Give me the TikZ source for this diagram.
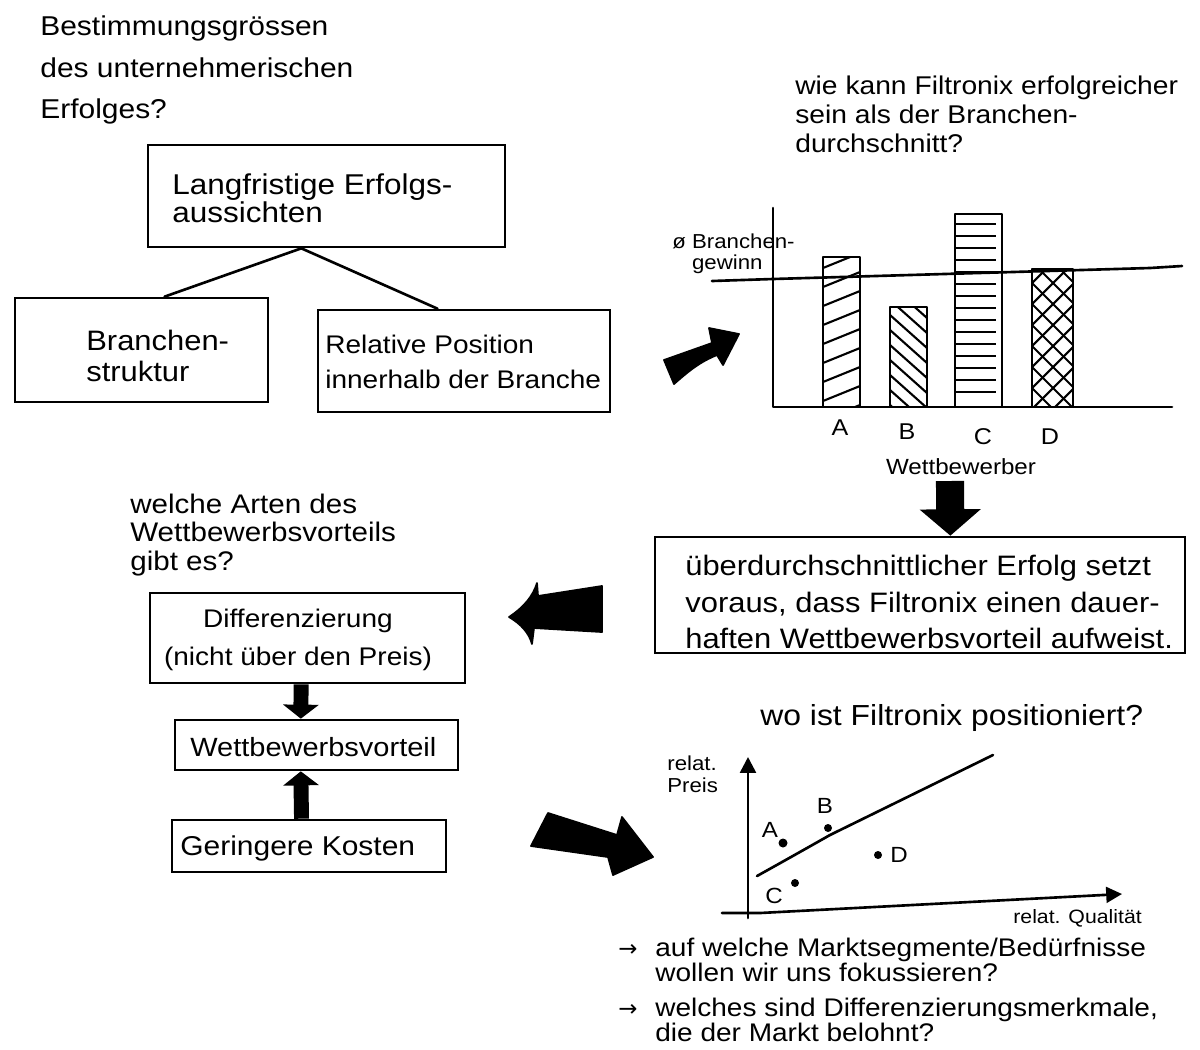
\documentclass[tikz,border=0pt]{standalone}
\usepackage{fontspec}
\setmainfont[FakeStretch=1.1]{Liberation Sans}
\newfontfamily\djv{DejaVu Sans}
\usetikzlibrary{arrows.meta,fit,calc}
\newcommand\fsz[2]{\fontsize{#1}{#2}\selectfont}
\begin{document}
\begin{tikzpicture}[x=0.02cm,y=-0.02cm,
  box/.style={draw, line width=1.5pt, inner sep=0pt},
  txt/.style={inner sep=0pt, anchor=west, align=left},
  lbl/.style={inner sep=0pt},
  ln/.style={line width=1.5pt, line cap=round, line join=round},
  fat/.style={fill=black, draw=black, line width=1pt, line join=round},
  hatch/.style={line width=1.2pt},
  thick arrow/.style={line width=8.5pt, -{Triangle[width=20pt,length=8pt]}},
]
\useasboundingbox[fill=white] (0,0) rectangle (1200,1049);

% ---------- top left ----------
\node[txt, font=\fsz{15.5}{23.5}] (q1) at (40,70) {Bestimmungsgrössen\\des unternehmerischen\\Erfolges?};

\node[box, fit={(148,145) (505,247)}] (b1) {};
\node[txt, font=\fsz{16.3}{15}] (b1t) at (172,198) {Langfristige Erfolgs-\\aussichten};
\node[box, fit={(15,298) (268,402)}] (b2) {};
\node[txt, font=\fsz{16}{18}] (b2t) at (86,356) {Branchen-\\struktur};
\node[box, fit={(318,310) (610,412)}] (b3) {};
\node[txt, font=\fsz{14.5}{20}] (b3t) at (325,362) {Relative Position\\innerhalb der Branche};
\coordinate (t0) at ($(b1.south west)!0.43!(b1.south east)$);
\coordinate (t1) at ($(b2.north west)!0.59!(b2.north east)$);
\coordinate (t2) at ($(b3.north west)!0.41!(b3.north east)$);
\draw[ln] (t1) -- (t0) -- (t2);

% fat arrow 1
\fill[fat] (664,360) -- (712,343) -- (709,328) -- (739,334) -- (723,365) -- (717,355)
  .. controls (700,362) and (690,370) .. (674,384) -- cycle;

% ---------- bar chart ----------
\node[txt, font=\fsz{14.6}{16.5}] (q2) at (795,114) {wie kann Filtronix erfolgreicher\\sein als der Branchen-\\durchschnitt?};
\draw[ln] (773,208) -- (773,407) -- (1172,407);
\draw[ln] (712,281) -- (773,279) -- (1150,268) -- (1182,266);
\node[txt, font=\fsz{11.5}{12}] (avg) at (672,254) {ø Branchen-\\\phantom{ø }gewinn};

\draw[ln] (823,257) rectangle (860,407);
\begin{scope}\clip (823,257) rectangle (860,407);
\foreach \y in {268,287,...,440} \draw[hatch] (823,\y) -- (860,\y-15);
\end{scope}
\draw[ln] (890,307) rectangle (927,407);
\begin{scope}\clip (890,307) rectangle (927,407);
\foreach \y in {285,300,...,420} \draw[hatch] (890,\y) -- (927,\y+33);
\end{scope}
\draw[ln] (955,214) rectangle (1002,407);
\begin{scope}\clip (955,214) rectangle (1002,407);
\foreach \y in {224,236,...,400} \draw[hatch] (955,\y) -- (996,\y);
\end{scope}
\draw[ln] (1032,269) rectangle (1073,407);
\begin{scope}\clip (1032,269) rectangle (1073,407);
\foreach \y in {220,241,...,460} {\draw[hatch] (1032,\y) -- (1073,\y+41); \draw[hatch] (1032,\y) -- (1073,\y-41);}
\end{scope}
\node[lbl, font=\fsz{13}{14}] (la) at (840,428) {A};
\node[lbl, font=\fsz{13}{14}] (lb) at (907,432) {B};
\node[lbl, font=\fsz{13}{14}] (lc) at (983,437) {C};
\node[lbl, font=\fsz{13}{14}] (ld) at (1050,437) {D};
\node[lbl, font=\fsz{12.5}{14}] (wb) at (961,467) {Wettbewerber};

% ---------- big box ----------
\node[box, fit={(655,537) (1185,653)}] (bb) {};
\node[txt, font=\fsz{16}{21}] (bbt) at (685,602) {überdurchschnittlicher Erfolg setzt\\voraus, dass Filtronix einen dauer-\\haften Wettbewerbsvorteil aufweist.};
\coordinate (da) at (950,481);
\draw[line width=16pt, -{Triangle[width=34pt,length=15pt]}] (da) -- ($(bb.north west)!0.557!(bb.north east)$);

% fat arrow left
\fill[fat] (509,617) .. controls (524,607) and (533,596) .. (537,583) -- (538,596) -- (602,586)
  -- (602,632) -- (534,628) -- (532,644) .. controls (529,633) and (521,624) .. (509,617) -- cycle;

% ---------- left column ----------
\node[txt, font=\fsz{15.3}{16}] (q3) at (130,535) {welche Arten des\\Wettbewerbsvorteils\\gibt es?};
\node[box, fit={(150,593) (465,683)}] (db) {};
\node[lbl, align=center, font=\fsz{14.5}{22}] (dbt) at (298,640) {Differenzierung\\(nicht über den Preis)};
\node[box, fit={(175,720) (458,770)}] (wv) {};
\node[txt, font=\fsz{15}{16}] (wvt) at (190,747) {Wettbewerbsvorteil};
\node[box, fit={(172,820) (446,872)}] (gk) {};
\node[txt, font=\fsz{15.5}{16}] (gkt) at (180,848) {Geringere Kosten};
\draw[thick arrow] ($(db.south west)!0.48!(db.south east)$) -- ($(wv.north west)!0.445!(wv.north east)$);
\draw[thick arrow] ($(gk.north west)!0.473!(gk.north east)$) -- ($(wv.south west)!0.445!(wv.south east)$);

% fat arrow right
\fill[fat] (548,813) -- (617,835) -- (622,817) -- (653,857) -- (613,875) -- (608,857) -- (531,846) -- cycle;

% ---------- scatter ----------
\node[txt, font=\fsz{16.5}{17}] (q4) at (760,718) {wo ist Filtronix positioniert?};
\node[txt, font=\fsz{11.5}{12.5}] (rp) at (667,774) {relat.\\Preis};
\coordinate (o1) at (748,918);
\coordinate (yt) at (748,757);
\coordinate (o2) at (722,913);
\coordinate (xt) at (1122,894);
\draw[ln, -{Triangle[width=9pt,length=9pt]}] (o1) -- (yt);
\draw[ln, -{Triangle[width=9pt,length=9pt]}] (o2) -- (760,913) -- (xt);
\draw[ln] (757,876) .. controls (775,866) and (800,852) .. (830,835) -- (993,755);
\node[txt, font=\fsz{11}{12}] (rq) at (1013,918) {relat. Qualität};
\fill (783,843) circle (4.5);
\fill (828,828) circle (4);
\fill (878,855) circle (4);
\fill (795,883) circle (4);
\node[lbl, font=\fsz{12.5}{13}] (pa) at (770,830) {A};
\node[lbl, font=\fsz{12.5}{13}] (pb) at (825,806) {B};
\node[lbl, font=\fsz{12.5}{13}] (pd) at (899,855) {D};
\node[lbl, font=\fsz{12.5}{13}] (pc) at (774,896) {C};

% ---------- notes ----------
\node[txt, font=\djv\fsz{13}{13}] (a1) at (618,950) {→};
\node[txt, font=\fsz{14.5}{13}] (n1) at (655,960) {auf welche Marktsegmente/Bedürfnisse\\wollen wir uns fokussieren?};
\node[txt, font=\djv\fsz{13}{13}] (a2) at (618,1010) {→};
\node[txt, font=\fsz{14.5}{13}] (n2) at (655,1020) {welches sind Differenzierungsmerkmale,\\die der Markt belohnt?};
\end{tikzpicture}
\end{document}
